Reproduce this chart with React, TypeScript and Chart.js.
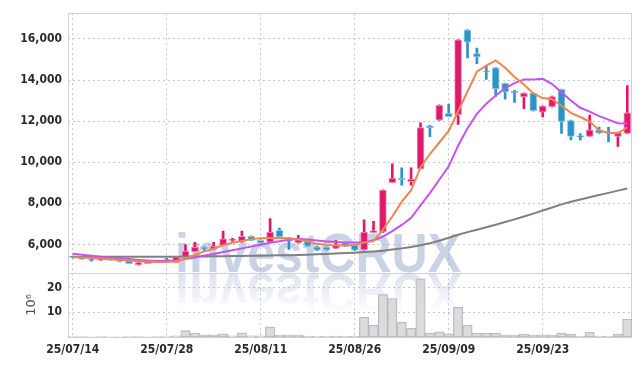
import React, { useEffect, useRef } from 'react';
import { Chart, registerables } from 'chart.js';

Chart.register(...registerables);

const dates = [
  '25/07/14', '25/07/15', '25/07/16', '25/07/17', '25/07/18', '25/07/21', '25/07/22', '25/07/23', '25/07/24', '25/07/25',
  '25/07/28', '25/07/29', '25/07/30', '25/07/31', '25/08/01', '25/08/04', '25/08/05', '25/08/06', '25/08/07', '25/08/08',
  '25/08/11', '25/08/12', '25/08/13', '25/08/14', '25/08/18', '25/08/19', '25/08/20', '25/08/21', '25/08/22', '25/08/25',
  '25/08/26', '25/08/27', '25/08/28', '25/08/29', '25/09/01', '25/09/02', '25/09/03', '25/09/04', '25/09/05', '25/09/08',
  '25/09/09', '25/09/10', '25/09/11', '25/09/12', '25/09/15', '25/09/16', '25/09/17', '25/09/18', '25/09/19', '25/09/22',
  '25/09/23', '25/09/24', '25/09/25', '25/09/26', '25/09/29', '25/09/30', '25/10/01', '25/10/02', '25/10/10', '25/10/13',
];

const opens = [5420, 5400, 5260, 5230, 5340, 5280, 5200, 5010, 5070, 5130, 5290, 5120, 5390, 5650, 5870, 5760, 5950, 6200, 6125, 6400, 6200, 6110, 6690, 6317, 6080, 6190, 5885, 5870, 5810, 6080, 6000, 5740, 6575, 6605, 9005, 9230, 9050, 9680, 11775, 12050, 12385, 12320, 16430, 15280, 14420, 14590, 13840, 13455, 13180, 13360, 12430, 12700, 13550, 12030, 11295, 11260, 11580, 11470, 11260, 11405];
const closes = [5370, 5290, 5240, 5340, 5240, 5170, 5070, 5120, 5190, 5200, 5270, 5380, 5680, 5870, 5770, 5920, 6270, 6250, 6400, 6200, 6080, 6605, 6365, 6160, 6240, 5920, 5725, 5740, 5965, 5920, 5725, 6605, 6670, 8640, 9230, 9135, 9180, 11680, 11665, 12770, 12220, 15950, 15840, 15120, 14380, 13565, 13420, 13370, 13360, 12510, 12735, 13200, 11980, 11260, 11215, 11580, 11420, 11440, 11440, 12400];
const highs = [5440, 5410, 5290, 5350, 5350, 5290, 5210, 5130, 5200, 5230, 5330, 5420, 6000, 6100, 5880, 6100, 6650, 6300, 6650, 6420, 6220, 7260, 6800, 6340, 6450, 6200, 5900, 5880, 6200, 6100, 6020, 7200, 7120, 8660, 9920, 9725, 9725, 11920, 11790, 12790, 12830, 15970, 16450, 15550, 14670, 14600, 13850, 13500, 13380, 13380, 12750, 13220, 13560, 12050, 11400, 12290, 11710, 11700, 11470, 13725];
const lows = [5350, 5280, 5190, 5220, 5230, 5150, 5060, 4990, 5060, 5120, 5250, 5100, 5380, 5640, 5700, 5750, 5940, 6150, 6100, 6180, 6060, 6100, 6340, 5760, 6060, 5900, 5700, 5720, 5800, 5900, 5700, 5730, 6560, 6590, 8990, 8880, 8880, 9670, 11245, 12040, 12200, 11840, 15070, 14800, 14030, 13200, 13070, 12910, 12600, 12480, 12205, 12680, 11405, 11090, 11090, 11250, 11400, 10990, 10770, 11390];

// volume in millions (10^6)
const volumes = [0.15, 0.12, 0.1, 0.12, 0.1, 0.1, 0.12, 0.15, 0.1, 0.12, 0.2, 0.5, 2.6, 1.6, 0.9, 0.9, 1.3, 0.5, 1.7, 0.5, 0.5, 4.0, 0.8, 0.8, 0.8, 0.4, 0.3, 0.3, 0.4, 0.3, 0.4, 8.0, 4.8, 17.2, 15.6, 6.0, 3.6, 23.6, 1.6, 2.1, 1.3, 12.0, 4.8, 1.6, 1.6, 1.6, 0.8, 0.8, 1.2, 0.8, 0.8, 0.8, 1.6, 1.2, 0.4, 2.0, 0.4, 0.4, 1.2, 7.2];

const maShort = [5375, 5360, 5340, 5310, 5280, 5250, 5215, 5185, 5165, 5150, 5150, 5185, 5310, 5485, 5665, 5790, 5965, 6080, 6175, 6260, 6300, 6320, 6320, 6300, 6240, 6145, 6030, 5980, 5965, 5950, 5965, 6095, 6160, 6720, 7360, 8070, 8640, 9750, 10400, 10960, 11520, 12480, 13440, 14400, 14700, 14950, 14600, 14150, 13780, 13350, 13120, 13060, 12750, 12400, 12200, 11980, 11550, 11420, 11420, 11700];
const maMid = [5550, 5500, 5450, 5400, 5370, 5330, 5290, 5250, 5220, 5200, 5190, 5220, 5290, 5370, 5460, 5540, 5630, 5720, 5810, 5900, 5990, 6080, 6160, 6230, 6280, 6240, 6190, 6150, 6120, 6100, 6090, 6110, 6200, 6380, 6650, 6950, 7300, 7900, 8500, 9150, 9800, 10800, 11650, 12350, 12850, 13250, 13600, 13850, 14030, 14030, 14060, 13800, 13400, 13000, 12650, 12460, 12240, 12070, 11900, 11890];
const maLong = [5400, 5400, 5400, 5400, 5400, 5400, 5400, 5400, 5400, 5400, 5400, 5405, 5410, 5415, 5420, 5425, 5430, 5435, 5440, 5445, 5450, 5460, 5470, 5480, 5490, 5505, 5520, 5540, 5560, 5580, 5600, 5630, 5660, 5700, 5750, 5810, 5880, 5960, 6060, 6180, 6330, 6470, 6600, 6720, 6840, 6960, 7090, 7220, 7360, 7500, 7650, 7800, 7950, 8080, 8190, 8300, 8410, 8510, 8620, 8720];

const priceTicks = [6000, 8000, 10000, 12000, 14000, 16000];
const volumeTicks = [10, 20];

const UP = '#e2186c';
const DOWN = '#2b93c8';
const UP_EDGE = 'rgba(238,150,186,1)';
const DOWN_EDGE = 'rgba(150,200,228,1)';
const GRID = 'rgba(185,192,214,0.9)';
const TICK_FONT = { family: "'Liberation Sans Narrow', 'DejaVu Sans Condensed', sans-serif", size: 12, weight: 'bold' as const };

const framePlugin = {
  id: 'frame',
  beforeDatasetsDraw(chart: any) {
    const { ctx, chartArea } = chart;
    const yp = chart.scales.yp;
    // watermark
    ctx.save();
    ctx.font = "bold 56px 'Liberation Sans', Arial, sans-serif";
    const text = 'investCRUX';
    const w = ctx.measureText(text).width;
    const sx = 286 / w;
    const baseY = yp.bottom - 1;
    const left = chartArea.left + 107;
    ctx.save();
    ctx.translate(left, baseY);
    ctx.scale(sx, 1);
    ctx.fillStyle = 'rgba(150,166,206,0.5)';
    ctx.textBaseline = 'alphabetic';
    ctx.fillText(text, 0, 0);
    ctx.restore();
    // reflection
    ctx.save();
    ctx.beginPath();
    ctx.rect(chartArea.left, yp.bottom, chartArea.width, chartArea.bottom - yp.bottom);
    ctx.clip();
    ctx.translate(left, yp.bottom + 1);
    ctx.scale(sx, -1);
    const g = ctx.createLinearGradient(0, 0, 0, -40);
    g.addColorStop(0, 'rgba(150,166,206,0.32)');
    g.addColorStop(1, 'rgba(150,166,206,0.0)');
    ctx.fillStyle = g;
    ctx.fillText(text, 0, 0);
    ctx.restore();
    ctx.restore();

    ctx.save();
    ctx.strokeStyle = '#cfd0d4';
    ctx.lineWidth = 1;
    ctx.strokeRect(Math.round(chartArea.left) + 0.5, Math.round(chartArea.top) + 0.5, Math.round(chartArea.width) - 1, Math.round(chartArea.height));
    ctx.beginPath();
    ctx.moveTo(chartArea.left, Math.round(yp.bottom) + 0.5);
    ctx.lineTo(chartArea.right, Math.round(yp.bottom) + 0.5);
    ctx.stroke();
    ctx.restore();
  },
};

export default function App() {
  const ref = useRef<HTMLCanvasElement>(null);
  useEffect(() => {
    const isUp = closes.map((c, i) => c >= opens[i]);
    const chart = new Chart(ref.current as HTMLCanvasElement, {
      type: 'bar',
      data: {
        labels: dates,
        datasets: [
          { type: 'line', data: maShort, borderColor: 'rgb(238,134,80)', borderWidth: 2, pointRadius: 0, yAxisID: 'yp', order: 1, tension: 0 } as any,
          { type: 'line', data: maMid, borderColor: 'rgb(198,84,236)', borderWidth: 2, pointRadius: 0, yAxisID: 'yp', order: 1, tension: 0 } as any,
          { type: 'line', data: maLong, borderColor: 'rgb(128,128,128)', borderWidth: 2, pointRadius: 0, yAxisID: 'yp', order: 1, tension: 0 } as any,
          {
            type: 'bar', data: opens.map((o, i) => [o, closes[i]]) as any, yAxisID: 'yp', grouped: false, order: 2,
            barThickness: 7, backgroundColor: isUp.map((u) => (u ? UP : DOWN)), borderColor: isUp.map((u) => (u ? UP_EDGE : DOWN_EDGE)), borderWidth: 1, borderSkipped: false,
          } as any,
          {
            type: 'bar', data: lows.map((l, i) => [l, highs[i]]) as any, yAxisID: 'yp', grouped: false, order: 3,
            barThickness: 2, backgroundColor: isUp.map((u) => (u ? UP : DOWN)), borderWidth: 0,
          } as any,
          {
            type: 'bar', data: volumes, yAxisID: 'yv', grouped: false, order: 4,
            barPercentage: 1, categoryPercentage: 1, backgroundColor: 'rgba(214,214,216,0.85)', borderColor: 'rgba(176,176,180,0.9)', borderWidth: 1, borderSkipped: false,
          } as any,
        ],
      },
      options: {
        animation: false,
        responsive: false,
        maintainAspectRatio: false,
        layout: { padding: { left: 0, top: 9, right: 10, bottom: 0 } },
        plugins: { legend: { display: false }, tooltip: { enabled: false } },
        scales: {
          x: {
            type: 'category',
            offset: true,
            afterFit: (s: any) => { s.height = 29; },
            grid: {
              offset: false,
              drawTicks: false,
              color: (c: any) => (c.index % 10 === 0 ? GRID : 'rgba(0,0,0,0)'),
            },
            border: { display: false, dash: [2, 3] },
            ticks: {
              autoSkip: false, maxRotation: 0, minRotation: 0, padding: 6,
              color: '#2a2a2a', font: TICK_FONT,
              callback: (_v: any, i: number) => (i % 10 === 0 ? dates[i] : ''),
            },
          },
          yv: {
            type: 'linear', position: 'left', stack: 'main', stackWeight: 65,
            min: 0, max: 26,
            afterFit: (s: any) => { s.width = 68; },
            afterBuildTicks: (s: any) => { s.ticks = volumeTicks.map((v) => ({ value: v })); },
            grid: { color: GRID, drawTicks: false },
            border: { display: false, dash: [2, 3] },
            ticks: {
              autoSkip: false, padding: 6, color: '#2a2a2a', font: TICK_FONT,
              callback: (v: any) => String(v),
            },
            title: { display: true, text: '10⁶', color: '#555', font: { family: "'DejaVu Sans', sans-serif", size: 13 }, padding: { top: 24, bottom: 0 } },
          },
          yp: {
            type: 'linear', position: 'left', stack: 'main', stackWeight: 263,
            min: 4620, max: 17250,
            afterFit: (s: any) => { s.width = 68; },
            afterBuildTicks: (s: any) => { s.ticks = priceTicks.map((v) => ({ value: v })); },
            grid: { color: GRID, drawTicks: false },
            border: { display: false, dash: [2, 3] },
            ticks: {
              autoSkip: false, padding: 6, color: '#2a2a2a', font: TICK_FONT,
              callback: (v: any) => Number(v).toLocaleString('en-US'),
            },
          },
        } as any,
      },
      plugins: [framePlugin],
    });
    return () => chart.destroy();
  }, []);
  return (
    <div style={{ position: 'absolute', left: 0, top: 0, width: 642, height: 366, background: '#fff' }}>
      <canvas ref={ref} width={642} height={366} style={{ display: 'block' }} />
    </div>
  );
}
